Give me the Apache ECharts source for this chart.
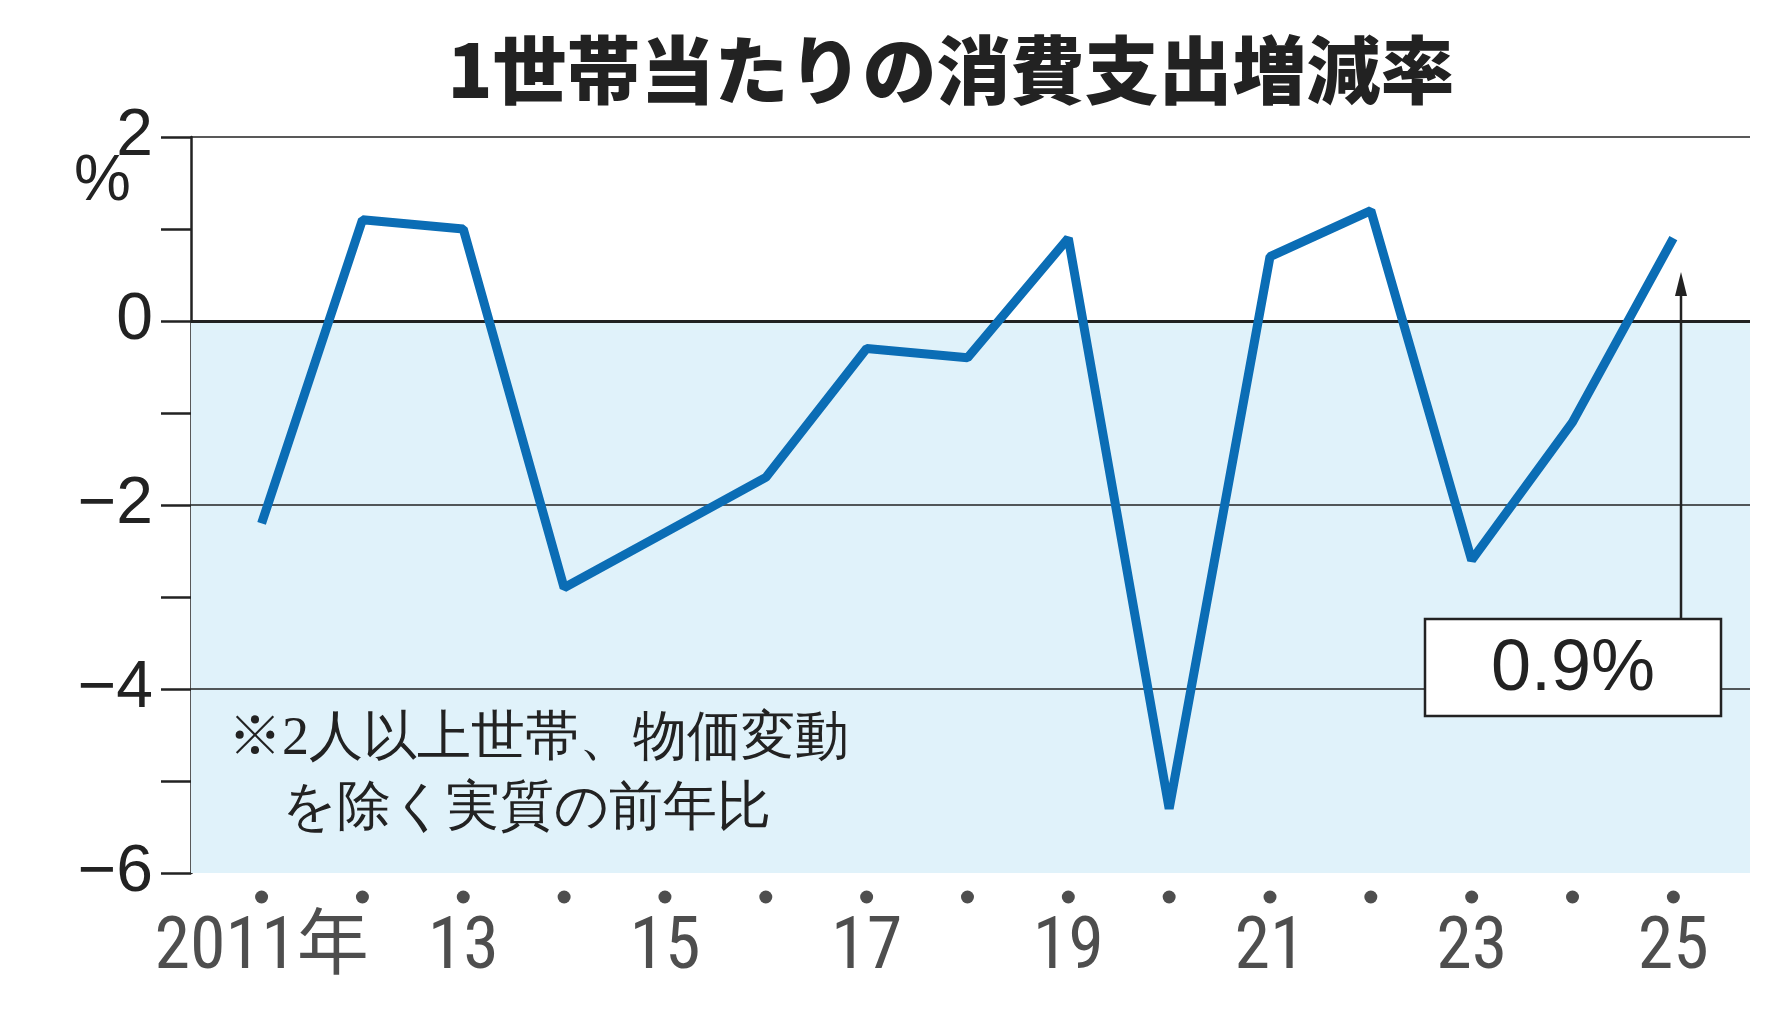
<!DOCTYPE html><html><head><meta charset="utf-8"><style>body{margin:0;background:#fff}#c{width:1778px;height:1016px}</style>
<script src="https://cdn.jsdelivr.net/npm/echarts@6/dist/echarts.min.js"></script></head><body><div id="c"></div><script>
const years=[2011,2012,2013,2014,2015,2016,2017,2018,2019,2020,2021,2022,2023,2024,2025];
const values=[-2.2,1.1,1.0,-2.9,-2.3,-1.7,-0.3,-0.4,0.9,-5.3,0.7,1.2,-2.6,-1.1,0.9];
const yLabels={2:'2',0:'0','-2':'−2','-4':'−4','-6':'−6'};
const xLabels={2011:'2011年',2013:'13',2015:'15',2017:'17',2019:'19',2021:'21',2023:'23',2025:'25'};
const F='"Roboto Condensed","Liberation Sans Narrow","Noto Sans CJK JP",sans-serif';
const ch=echarts.init(document.getElementById('c'));
ch.setOption({animation:false,
title:{text:'1世帯当たりの消費支出増減率',left:946,top:28,textAlign:'center',textStyle:{fontFamily:'Noto Sans CJK JP',fontWeight:900,fontSize:74,color:'#222'}},
grid:{left:191,right:28,top:137,bottom:143},
xAxis:{type:'value',min:2010.3,max:2025.76,axisLine:{show:false},axisTick:{show:false},axisLabel:{show:false},splitLine:{show:false}},
yAxis:{type:'value',min:-6,max:2,interval:1,axisLine:{show:true,lineStyle:{color:'#222',width:2.5}},axisTick:{show:true,length:30,lineStyle:{color:'#222',width:2.5}},
 axisLabel:{formatter:v=>yLabels[v]||'',fontSize:66,color:'#222',fontFamily:'Liberation Sans',margin:38},
 splitLine:{show:false}},
series:[
{type:'line',data:years.map((y,i)=>[y,values[i]]),symbol:'none',lineStyle:{color:'#0b6db5',width:9},z:5,
 markArea:{silent:true,itemStyle:{color:'#e0f2fa'},data:[[{yAxis:0,xAxis:2010.3},{yAxis:-6,xAxis:2025.76}]]},
 markLine:{silent:true,symbol:'none',label:{show:false},data:[
  {yAxis:2,lineStyle:{color:'#222',width:1.5,type:'solid'}},
  {yAxis:0,lineStyle:{color:'#222',width:3,type:'solid'}},
  {yAxis:-2,lineStyle:{color:'#222',width:1.5,type:'solid'}},
  {yAxis:-4,lineStyle:{color:'#222',width:1.5,type:'solid'}}]}},
{type:'scatter',data:years.map(y=>[y,-6]),symbolSize:13,symbolOffset:[0,24],itemStyle:{color:'#222'},clip:false,silent:true,
 label:{show:true,position:'bottom',distance:10,formatter:p=>xLabels[p.value[0]]||'',fontSize:72,color:'#222',fontFamily:F}}
],
graphic:[
{type:'text',z:100,left:74,top:150,style:{text:'%',fontSize:64,fill:'#222',fontFamily:'Liberation Sans'}},
{type:'text',z:100,left:228,top:705,style:{text:'※2人以上世帯、物価変動\n　を除く実質の前年比',fontSize:54,lineHeight:70,fill:'#222',fontFamily:'serif'}},
{type:'line',z:100,shape:{x1:1681,y1:619,x2:1681,y2:290},style:{stroke:'#222',lineWidth:2.5}},
{type:'polygon',z:100,shape:{points:[[1681,272],[1675,296],[1687,296]]},style:{fill:'#222'}},
{type:'rect',z:100,shape:{x:1425,y:619,width:296,height:97},style:{fill:'#fff',stroke:'#222',lineWidth:2.5}},
{type:'text',z:101,x:1573,y:670,style:{text:'0.9%',fontSize:72,fill:'#222',fontFamily:'Liberation Sans',align:'center',verticalAlign:'middle'}}
]});
</script></body></html>
